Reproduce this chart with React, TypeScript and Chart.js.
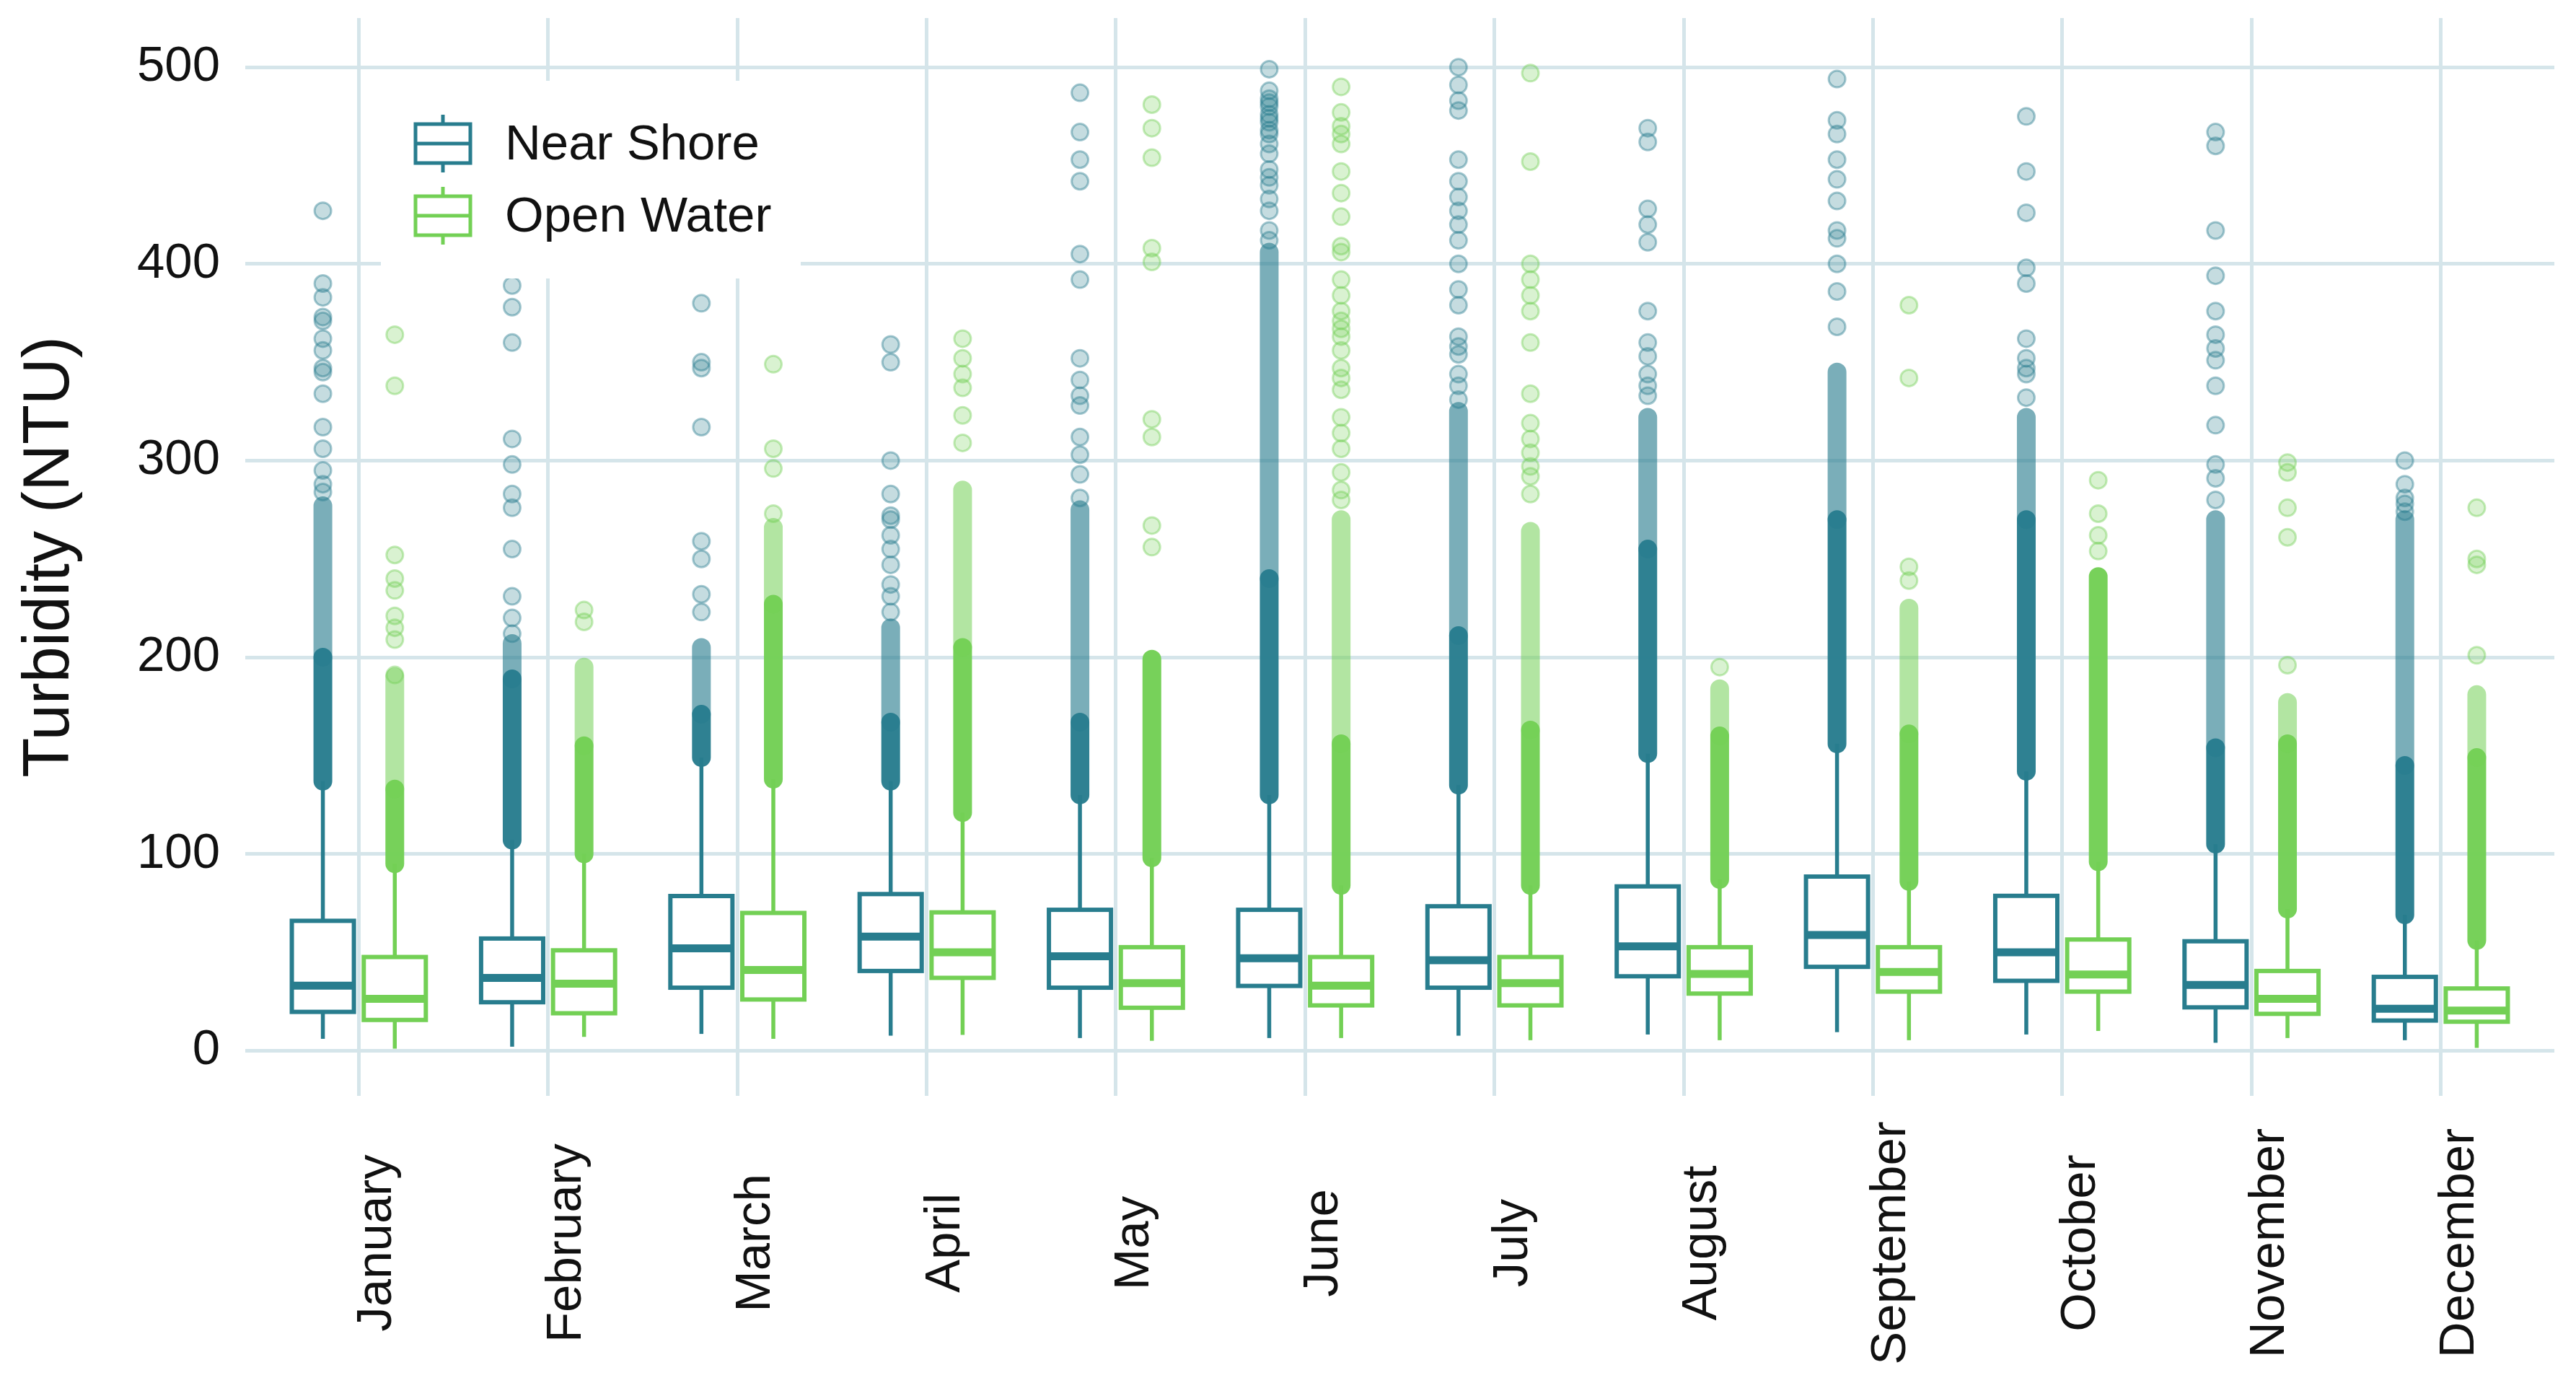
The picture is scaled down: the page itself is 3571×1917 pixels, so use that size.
import { useEffect, useRef } from 'react';
import { Chart, registerables } from 'chart.js';

Chart.register(...registerables);

const months = [
  'January', 'February', 'March', 'April', 'May', 'June',
  'July', 'August', 'September', 'October', 'November', 'December',
];
const yTicks = [0, 100, 200, 300, 400, 500];

// Near Shore box stats (NTU)
const nsLow = [6, 2, 8.5, 7.6, 6.4, 6.4, 7.6, 8.2, 9.4, 8.2, 4, 5.3];
const nsQ1 = [19.7, 24.6, 32, 40.5, 32, 32.9, 32, 37.8, 42.6, 35.5, 22, 15.3];
const nsMedian = [33, 37, 52, 58, 48, 47, 46, 53, 58.8, 50, 33.4, 21.3];
const nsQ3 = [66, 57, 78.6, 79.6, 71.6, 71.6, 73.4, 83.5, 88.5, 78.7, 55.6, 37.5];
const nsHigh = [137, 107, 149, 137, 130, 130, 135, 151, 156, 142, 105, 69];
// where the outliers pile up into a solid / half-solid column
const nsSolidTop = [200, 189, 171, 167, 167, 240, 211, 255, 270, 270, 154, 145];
const nsSemiTop = [277, 207, 205, 215, 275, 406, 325, 322, 345, 322, 270, 270];
const nsOutliers = [
  [284, 288, 295, 306, 317, 334, 345, 347, 356, 362, 371, 373, 383, 390, 427],
  [212, 220, 231, 255, 276, 283, 298, 311, 360, 378, 389],
  [223, 232, 250, 259, 317, 347, 350, 380],
  [223, 231, 237, 247, 255, 262, 270, 272, 283, 300, 350, 359],
  [281, 293, 303, 312, 328, 333, 341, 352, 392, 405, 442, 453, 467, 487],
  [412, 417, 427, 433, 440, 444, 448, 456, 461, 466, 468, 472, 474, 476, 480, 482, 484, 488, 499],
  [331, 338, 344, 354, 358, 363, 379, 387, 400, 412, 420, 427, 434, 442, 453, 478, 483, 491, 500],
  [333, 338, 344, 353, 360, 376, 411, 420, 428, 462, 469],
  [368, 386, 400, 413, 417, 432, 443, 453, 466, 473, 494],
  [332, 344, 347, 352, 362, 390, 398, 426, 447, 475],
  [280, 291, 298, 318, 338, 351, 357, 364, 376, 394, 417, 460, 467],
  [274, 278, 281, 288, 300],
];

// Open Water box stats (NTU)
const owLow = [1, 7, 6, 8, 5, 6.4, 5.3, 5.3, 5.3, 10, 6.4, 1.4];
const owQ1 = [15.6, 19, 26, 37, 21.8, 23, 23, 29, 30, 30, 18.7, 14.7];
const owMedian = [26.3, 34, 41, 50, 34.3, 33, 34.3, 39, 40, 38.7, 26.3, 20.4];
const owQ3 = [47.6, 51, 70, 70.3, 52.6, 47.6, 47.6, 52.6, 52.6, 56.5, 40.5, 31.6];
const owHigh = [95, 100, 138, 121, 98, 84, 84, 87, 86, 96, 72, 56];
const owSolidTop = [133, 155, 227, 205, 199, 156, 163, 160, 161, 241, 156, 149];
const owSemiTop = [190, 195, 266, 285, 199, 270, 264, 184, 225, 241, 177, 181];
const owOutliers = [
  [191, 209, 215, 221, 234, 240, 252, 338, 364],
  [218, 224],
  [273, 296, 306, 349],
  [309, 323, 337, 344, 352, 362],
  [256, 267, 312, 321, 401, 408, 454, 469, 481],
  [280, 285, 294, 306, 314, 322, 336, 342, 347, 356, 363, 367, 371, 376, 384, 392, 406, 409, 424, 436, 447, 461, 466, 470, 477, 490],
  [283, 292, 297, 304, 311, 319, 334, 360, 376, 384, 392, 400, 452, 497],
  [195],
  [239, 246, 342, 379],
  [254, 262, 273, 290],
  [196, 261, 276, 294, 299],
  [201, 247, 250, 276],
];

const NEAR_COLOR = '#287D8E';
const OPEN_COLOR = '#73D055';
const GRID_COLOR = '#d5e5ea';
const TEXT_COLOR = '#111111';
const FONT = '"Liberation Sans", Arial, Helvetica, sans-serif';

const BOX_HALF = 0.164; // in category units
const BAND_WIDTH = 26;

const groups = [
  {
    name: 'Near Shore', color: NEAR_COLOR, offset: -0.19, semiAlpha: 0.62,
    low: nsLow, q1: nsQ1, median: nsMedian, q3: nsQ3, high: nsHigh,
    solidTop: nsSolidTop, semiTop: nsSemiTop, outliers: nsOutliers,
  },
  {
    name: 'Open Water', color: OPEN_COLOR, offset: 0.19, semiAlpha: 0.55,
    low: owLow, q1: owQ1, median: owMedian, q3: owQ3, high: owHigh,
    solidTop: owSolidTop, semiTop: owSemiTop, outliers: owOutliers,
  },
];

function rgba(hex: string, a: number) {
  const n = parseInt(hex.slice(1), 16);
  return `rgba(${(n >> 16) & 255},${(n >> 8) & 255},${n & 255},${a})`;
}

function vline(ctx: CanvasRenderingContext2D, x: number, y1: number, y2: number) {
  ctx.beginPath();
  ctx.moveTo(x, y1);
  ctx.lineTo(x, y2);
  ctx.stroke();
}

const boxPlotPlugin = {
  id: 'boxPlot',
  // dense outlier columns go under the points
  beforeDatasetsDraw(chart: any) {
    const { ctx, chartArea, scales } = chart;
    const x = scales.x;
    const y = scales.y;
    ctx.save();
    ctx.beginPath();
    ctx.rect(chartArea.left, chartArea.top, chartArea.right - chartArea.left, chartArea.bottom - chartArea.top);
    ctx.clip();
    ctx.lineCap = 'round';
    ctx.lineWidth = BAND_WIDTH;
    for (const g of groups) {
      months.forEach((_, i) => {
        const px = x.getPixelForValue(i + g.offset);
        if (g.semiTop[i] > g.solidTop[i]) {
          ctx.strokeStyle = rgba(g.color, g.semiAlpha);
          vline(ctx, px, y.getPixelForValue(g.solidTop[i]), y.getPixelForValue(g.semiTop[i]));
        }
        ctx.strokeStyle = rgba(g.color, 0.97);
        vline(ctx, px, y.getPixelForValue(g.high[i]), y.getPixelForValue(g.solidTop[i]));
      });
    }
    ctx.restore();
  },
  afterDatasetsDraw(chart: any) {
    const { ctx, scales } = chart;
    const x = scales.x;
    const y = scales.y;
    ctx.save();
    for (const g of groups) {
      months.forEach((_, i) => {
        const px = x.getPixelForValue(i + g.offset);
        const l = x.getPixelForValue(i + g.offset - BOX_HALF);
        const r = x.getPixelForValue(i + g.offset + BOX_HALF);
        const top = y.getPixelForValue(g.q3[i]);
        const bottom = y.getPixelForValue(g.q1[i]);
        ctx.strokeStyle = g.color;
        ctx.lineCap = 'butt';
        ctx.lineWidth = 5.5;
        vline(ctx, px, top, y.getPixelForValue(g.high[i]));
        vline(ctx, px, bottom, y.getPixelForValue(g.low[i]));
        ctx.fillStyle = '#ffffff';
        ctx.fillRect(l, top, r - l, bottom - top);
        ctx.lineWidth = 6;
        ctx.strokeRect(l, top, r - l, bottom - top);
        const my = y.getPixelForValue(g.median[i]);
        ctx.lineWidth = 11;
        ctx.beginPath();
        ctx.moveTo(l, my);
        ctx.lineTo(r, my);
        ctx.stroke();
      });
    }
    ctx.restore();
  },
  afterDraw(chart: any) {
    const { ctx, chartArea, scales } = chart;
    const x = scales.x;
    ctx.save();
    // month labels, rotated and centred
    ctx.fillStyle = TEXT_COLOR;
    ctx.font = `69px ${FONT}`;
    ctx.textAlign = 'center';
    ctx.textBaseline = 'middle';
    months.forEach((m, i) => {
      ctx.save();
      ctx.translate(x.getPixelForValue(i) + 26, chartArea.bottom + 204);
      ctx.rotate(-Math.PI / 2);
      ctx.fillText(m, 0, 0);
      ctx.restore();
    });

    // legend inside the panel
    const lx = chartArea.left;
    const ly = chartArea.top;
    ctx.fillStyle = '#ffffff';
    ctx.fillRect(lx + 188, ly + 87, 582, 274);
    groups.forEach((g, k) => {
      const cy = ly + 174 + k * 100;
      const cx = lx + 274;
      ctx.strokeStyle = g.color;
      ctx.lineWidth = 5;
      vline(ctx, cx, cy - 40, cy + 40);
      ctx.fillStyle = '#ffffff';
      ctx.fillRect(cx - 38, cy - 27, 76, 54);
      ctx.strokeRect(cx - 38, cy - 27, 76, 54);
      ctx.beginPath();
      ctx.moveTo(cx - 38, cy);
      ctx.lineTo(cx + 38, cy);
      ctx.stroke();
      ctx.fillStyle = TEXT_COLOR;
      ctx.textAlign = 'left';
      ctx.textBaseline = 'middle';
      ctx.fillText(g.name, lx + 360, cy + 3);
    });
    ctx.restore();
  },
};

export default function App() {
  const canvasRef = useRef<HTMLCanvasElement>(null);

  useEffect(() => {
    if (!canvasRef.current) return;
    Chart.defaults.font.family = FONT;
    Chart.defaults.color = TEXT_COLOR;

    const chart = new Chart(canvasRef.current, {
      type: 'scatter',
      data: {
        datasets: groups.map((g) => ({
          label: g.name,
          data: g.outliers.flatMap((vals, i) => vals.map((v) => ({ x: i + g.offset, y: v }))),
          pointRadius: 11.5,
          pointBorderWidth: 3,
          pointBackgroundColor: rgba(g.color, 0.27),
          pointBorderColor: rgba(g.color, 0.42),
          pointHoverRadius: 11.5,
        })),
      },
      options: {
        animation: false,
        responsive: true,
        maintainAspectRatio: false,
        layout: { padding: { top: 25, right: 30, left: 0, bottom: 0 } },
        plugins: {
          legend: { display: false },
          tooltip: { enabled: false },
        },
        scales: {
          x: {
            type: 'linear',
            min: -0.6,
            max: 11.6,
            afterBuildTicks: (s: any) => {
              s.ticks = months.map((_, i) => ({ value: i }));
            },
            afterFit: (s: any) => {
              s.height = 398;
              s.paddingLeft = 0;
              s.paddingRight = 0;
            },
            grid: { color: GRID_COLOR, lineWidth: 5, drawTicks: false },
            border: { display: false },
            ticks: { display: false },
          },
          y: {
            type: 'linear',
            min: -23,
            max: 525,
            afterBuildTicks: (s: any) => {
              s.ticks = yTicks.map((v) => ({ value: v }));
            },
            afterFit: (s: any) => {
              s.width = 340;
              s.paddingTop = 0;
              s.paddingBottom = 0;
            },
            grid: { color: GRID_COLOR, lineWidth: 5, drawTicks: false },
            border: { display: false },
            ticks: { padding: 35, font: { size: 69 }, color: TEXT_COLOR },
            title: {
              display: true,
              text: 'Turbidity (NTU)',
              color: TEXT_COLOR,
              font: { size: 90, lineHeight: 1 },
              padding: { top: 25, bottom: 0 },
            },
          },
        },
      },
      plugins: [boxPlotPlugin],
    });

    return () => chart.destroy();
  }, []);

  return (
    <div style={{ position: 'fixed', inset: 0, background: '#ffffff' }}>
      <canvas ref={canvasRef} />
    </div>
  );
}
